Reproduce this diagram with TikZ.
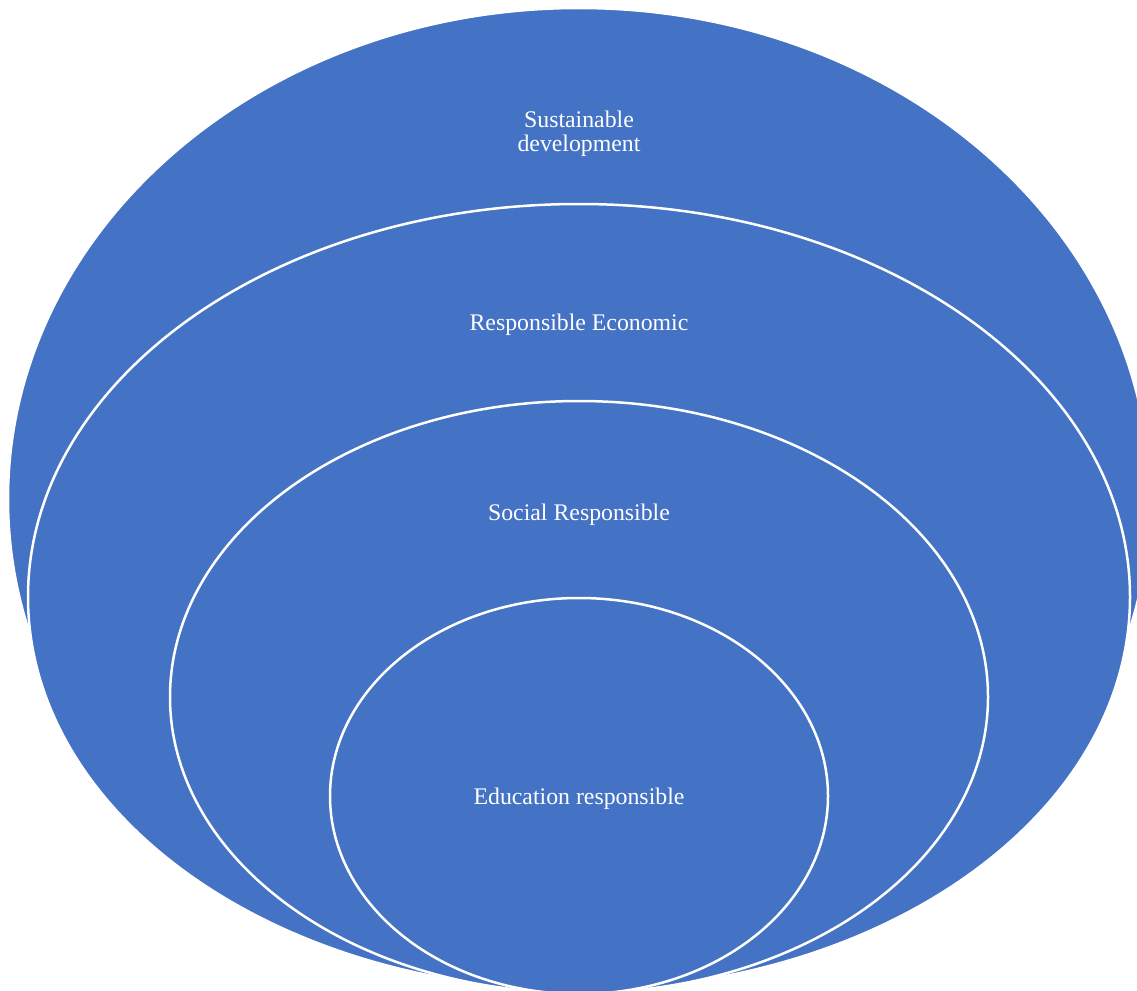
\documentclass[tikz,border=0pt]{standalone}
\usepackage{fontspec}
\setmainfont{Liberation Serif}
\definecolor{ringblue}{HTML}{4472C4}
\begin{document}
\begin{tikzpicture}[x=1pt,y=-1pt,
  ring/.style={fill=ringblue,draw=white,line width=2.5pt},
  lbl/.style={text=white,font=\fontsize{23.8}{24}\selectfont,align=center,inner sep=0pt}]
\useasboundingbox (0,0) rectangle (1137,990);
\clip (0,0) rectangle (1137,990);
\path[ring] (579,499) ellipse [x radius=571,y radius=491];
\path[ring] (579,597) ellipse [x radius=551,y radius=393];
\path[ring] (579,697) ellipse [x radius=409,y radius=296];
\path[ring] (579,796) ellipse [x radius=249,y radius=198];
\node[lbl] (sd) at (579,134) {Sustainable\\development};
\node[lbl] (re) at (579,325) {Responsible Economic};
\node[lbl] (sr) at (579,515) {Social Responsible};
\node[lbl] (er) at (579,799) {Education responsible};
\end{tikzpicture}
\end{document}
